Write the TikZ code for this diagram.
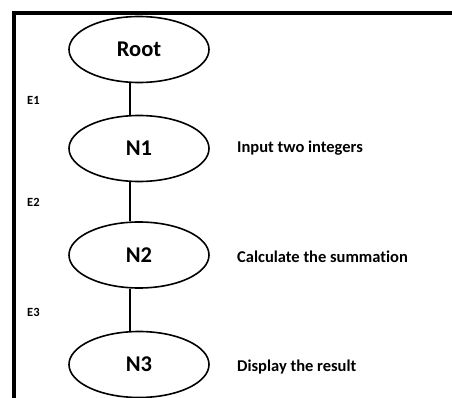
\documentclass[tikz,border=0pt]{standalone}
\usepackage{fontspec}
\setmainfont{Carlito}[RawFeature={-liga}]
\usetikzlibrary{shapes.geometric}
\begin{document}
\begin{tikzpicture}[x=1pt,y=-1pt,
  nodeell/.style={ellipse,draw,line width=1.6pt,minimum width=140pt,minimum height=66pt,inner sep=0pt,font=\fontsize{22.5}{22.5}\selectfont\bfseries},
  edgelbl/.style={anchor=west,inner sep=0pt,font=\fontsize{12.5}{12.5}\selectfont\bfseries},
  desc/.style={anchor=west,inner sep=0pt,font=\fontsize{16.5}{16.5}\selectfont\bfseries},
  conn/.style={line width=1.8pt}]
\useasboundingbox (0,0) rectangle (452,398);
\fill[white] (0,0) rectangle (452,398);
\draw[line width=4pt] (14,400) -- (14,13.5) -- (454,13.5);
\node[nodeell] (root) at (139,49.5) {Root};
\node[nodeell] (n1) at (139,148.5) {N1};
\node[nodeell] (n2) at (139,255) {N2};
\node[nodeell] (n3) at (139,364.5) {N3};
\draw[conn] (root.255) -- (n1.105);
\draw[conn] (n1.255) -- (n2.105);
\draw[conn] (n2.255) -- (n3.105);
\node[edgelbl] (e1) at (27,100) {E1};
\node[edgelbl] (e2) at (27,202) {E2};
\node[edgelbl] (e3) at (27,312) {E3};
\node[desc] (d1) at (237,148) {Input two integers};
\node[desc] (d2) at (237,257) {Calculate the summation};
\node[desc] (d3) at (237,367) {Display the result};
\end{tikzpicture}
\end{document}
